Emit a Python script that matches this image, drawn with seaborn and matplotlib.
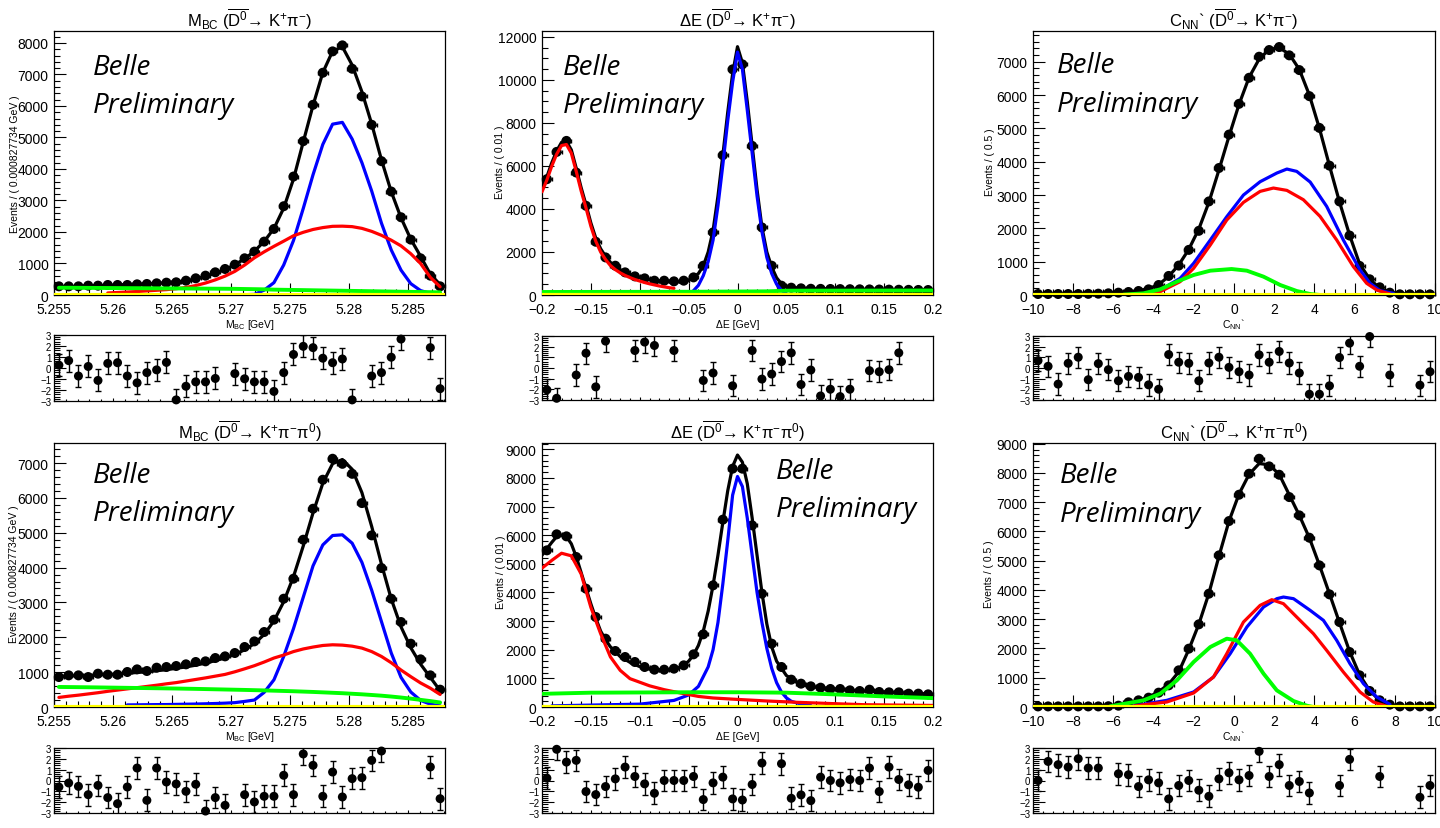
import numpy as np
import matplotlib
matplotlib.use("Agg")
import matplotlib.pyplot as plt
import seaborn as sns
from matplotlib.ticker import FixedLocator, AutoMinorLocator, FuncFormatter, NullFormatter

sns.set_theme(style="ticks")
plt.rcParams['font.family'] = ['Liberation Sans', 'DejaVu Sans']
plt.rcParams['mathtext.fontset'] = 'custom'
plt.rcParams['mathtext.rm'] = 'Liberation Sans'
plt.rcParams['mathtext.it'] = 'Liberation Sans:italic'
plt.rcParams['mathtext.bf'] = 'Liberation Sans:bold'
plt.rcParams['mathtext.sf'] = 'Liberation Sans'
plt.rcParams['axes.unicode_minus'] = True
plt.rcParams['text.color'] = 'black'

nan = np.nan
NBINS = 40
MBC_LO, MBC_W = 5.255, 0.000827734
DE_LO, DE_W = -0.2, 0.01
CNN_LO, CNN_W = -10.0, 0.5

# ---------------- tick labels ----------------
mbc_xticks = [5.255, 5.26, 5.265, 5.27, 5.275, 5.28, 5.285]
de_xticks = [-0.2, -0.15, -0.1, -0.05, 0.0, 0.05, 0.1, 0.15, 0.2]
cnn_xticks = [-10, -8, -6, -4, -2, 0, 2, 4, 6, 8, 10]
pull_yticks = [-3, -2, -1, 0, 1, 2, 3]

# ================= Panel 1 : M_BC (D0 -> K+ pi-) =================
mbc_kpi_data = [275, 275, 275, 297, 297, 318, 318, 318, 339, 350, 371, 392, 403, 455, 530, 614, 720, 826, 964, 1165,
                1377, 1695, 2097, 2818, 3760, 4883, 6038, 7055, 7733, 7924, 7182, 6303, 5403, 4248, 3284, 2468, 1758, 1165, 614, 275]
mbc_kpi_total = [265, 268, 272, 280, 290, 305, 315, 325, 340, 355, 370, 390, 410, 450, 510, 590, 690, 810, 960, 1150,
                 1390, 1700, 2110, 2760, 3680, 4860, 6020, 7060, 7740, 7880, 7300, 6450, 5430, 4290, 3280, 2450, 1770, 1230, 660, 330]
mbc_kpi_blue = [5, 10, 20, 155, 392, 953, 1730, 2748, 3818, 4780, 5423, 5480, 4950, 4200, 3300, 2280, 1430, 790, 360, 140, 50, 20]  # bins 18..39
mbc_kpi_red = [65, 80, 95, 110, 130, 150, 170, 200, 240, 300, 380, 480, 600, 750, 950,
               1180, 1370, 1545, 1710, 1880, 1990, 2080, 2140, 2180, 2185, 2170, 2115, 2020, 1895, 1740, 1560, 1310, 1000, 560, 260]  # bins 5..39
mbc_kpi_green = [230, 230, 228, 226, 224, 222, 220, 218, 216, 214, 212, 210, 208, 206, 204, 202, 200, 198, 195, 190,
                 185, 180, 170, 165, 160, 155, 150, 145, 140, 135, 130, 125, 120, 115, 110, 105, 100, 95, 90, 85]
mbc_kpi_pull = [0.26, 0.67, -0.73, 0.14, -1.13, 0.42, 0.48, -0.73, -1.35, -0.42, -0.17, 0.51, -2.9, -1.66, -1.26, -1.26, -0.95, nan, -0.51, -0.98,
                -1.26, -1.26, -2.13, -0.42, 1.23, 1.97, 1.85, 0.89, 0.48, 0.82, -2.9, nan, -0.73, -0.42, 0.98, 2.63, nan, nan, 1.85, -1.88]

# ================= Panel 2 : Delta E (D0 -> K+ pi-) =================
de_kpi_data = [5387, 6656, 7167, 5697, 4149, 2477, 1749, 1362, 1053, 867, 774, 666, 666, 635, 666, 820, 1362, 2910, 6502, 10495,
               10728, 6935, 3142, 1362, 433, 340, 310, 290, 285, 280, 275, 270, 265, 260, 255, 250, 245, 240, 235, 232]
de_kpi_total_x = [-0.2, -0.195, -0.19, -0.185, -0.18, -0.175, -0.17, -0.165, -0.16, -0.155, -0.15, -0.145, -0.14, -0.135, -0.13, -0.125, -0.12,
                  -0.11, -0.1, -0.09, -0.08, -0.07, -0.06,
                  -0.055, -0.05, -0.045, -0.04, -0.035, -0.03, -0.025, -0.02, -0.015, -0.01, -0.005, 0.0, 0.005, 0.01, 0.015, 0.02, 0.025, 0.03, 0.035, 0.04, 0.045, 0.05,
                  0.06, 0.08, 0.1, 0.15, 0.2]
de_kpi_total = [4950, 5500, 6150, 6700, 7100, 7150, 6750, 5900, 5000, 4200, 3350, 2650, 2150, 1800, 1520, 1330, 1180,
                960, 820, 720, 650, 615, 615,
                640, 700, 800, 1000, 1350, 2000, 3000, 4600, 6500, 8500, 10300, 11550, 10800, 9000, 6950, 4900, 3150, 2000, 1300, 800, 520, 400,
                320, 290, 270, 250, 240]
de_kpi_blue_x = [-0.05, -0.045, -0.04, -0.035, -0.03, -0.025, -0.02, -0.015, -0.01, -0.005, 0.0, 0.005, 0.01, 0.015, 0.02, 0.025, 0.03, 0.035, 0.04, 0.045, 0.05]
de_kpi_blue = [20, 200, 450, 900, 1550, 2550, 4150, 6050, 8100, 9900, 11300, 10500, 8600, 6600, 4600, 2950, 1750, 1000, 500, 220, 60]
de_kpi_red_x = [-0.2, -0.195, -0.19, -0.185, -0.18, -0.175, -0.17, -0.165, -0.16, -0.155, -0.15, -0.145, -0.14, -0.135, -0.13, -0.125, -0.12, -0.115,
                -0.11, -0.105, -0.1, -0.095, -0.09, -0.085, -0.08, -0.075, -0.07, -0.065]
de_kpi_red = [4800, 5350, 6000, 6550, 6950, 7000, 6600, 5750, 4850, 4050, 3200, 2500, 2000, 1650, 1370, 1180, 1030, 910,
              810, 720, 650, 580, 520, 470, 420, 380, 340, 310]
de_kpi_green_x = [-0.2, -0.05, 0.03, 0.05, 0.2]
de_kpi_green = [140, 150, 170, 200, 210]
de_kpi_pull = [-2.05, -2.84, nan, -0.66, 1.39, -1.77, 2.52, nan, nan, 1.64, 2.43, 2.11, nan, 1.64, nan, nan, -1.17, -0.47, nan, -1.67,
               nan, 1.64, -1.04, -0.57, 0.60, 1.42, -1.55, -0.19, -2.62, -1.99, -2.68, -1.99, nan, -0.25, -0.35, -0.16, 1.42, nan, nan, nan]

# ================= Panel 3 : C_NN' (D0 -> K+ pi-) =================
cnn_kpi_data = [30, 30, 30, 30, 30, 35, 40, 50, 70, 90, 120, 170, 300, 572, 883, 1354, 1926, 2808, 3811, 4814,
                5737, 6519, 7151, 7352, 7442, 7192, 6750, 5968, 5015, 3882, 2808, 1785, 873, 471, 231, 70, 20, 20, 20, 20]
cnn_kpi_total = [30, 30, 30, 30, 30, 35, 40, 50, 70, 95, 130, 190, 310, 560, 900, 1370, 1980, 2780, 3750, 4760,
                 5720, 6530, 7080, 7370, 7420, 7230, 6770, 6000, 5000, 3880, 2790, 1800, 930, 480, 200, 80, 40, 30, 30, 30]
cnn_kpi_blue_x = [-4.5, -3.67, -2.68, -2.01, -1.18, -0.36, 0.47, 1.30, 2.13, 2.63, 3.12, 3.79, 4.61, 5.44, 6.27, 6.77, 7.27, 7.93]
cnn_kpi_blue = [40, 150, 500, 950, 1650, 2350, 3000, 3400, 3660, 3780, 3710, 3390, 2660, 1650, 750, 350, 130, 50]
cnn_kpi_red_x = [-4.5, -3.67, -2.68, -2.01, -1.18, -0.36, 0.47, 1.30, 1.96, 2.63, 3.45, 4.28, 5.11, 5.94, 6.60, 7.10, 7.76]
cnn_kpi_red = [30, 100, 400, 800, 1500, 2250, 2780, 3110, 3210, 3140, 2860, 2360, 1650, 850, 350, 150, 30]
cnn_kpi_green_x = [-5.5, -4.5, -3.67, -2.84, -2.01, -1.18, -0.12, 0.64, 1.47, 2.30, 3.12, 3.79, 4.28]
cnn_kpi_green = [10, 50, 170, 400, 600, 730, 780, 730, 550, 300, 120, 30, 0]
cnn_kpi_pull = [0.69, 0.16, -1.51, 0.44, 1.01, -1.10, 0.41, -0.16, -1.20, -0.79, -0.88, -1.58, -1.99, 1.26, 0.54, 0.44, -1.20, 0.47, 1.01, 0.06,
                -0.35, -0.66, 1.23, 0.54, 1.55, 0.47, -0.47, -2.46, -2.46, -1.67, 0.98, 2.33, 0.16, 2.95, nan, -0.66, nan, nan, -1.61, -0.35]

# ================= Panel 4 : M_BC (D0 -> K+ pi- pi0) =================
mbc_kpp_data = [860, 908, 908, 860, 956, 927, 927, 1004, 1080, 1033, 1128, 1147, 1176, 1224, 1291, 1310, 1405, 1453, 1549, 1721,
                1883, 2151, 2505, 3107, 3681, 4799, 5688, 6520, 7122, 6979, 6692, 5851, 4924, 3987, 3107, 2438, 1816, 1367, 908, 497]
mbc_kpp_total = [880, 890, 900, 910, 920, 935, 950, 970, 990, 1010, 1040, 1070, 1110, 1150, 1200, 1260, 1330, 1410, 1510, 1640,
                 1820, 2080, 2470, 3020, 3740, 4620, 5570, 6420, 6980, 7100, 6820, 6150, 5180, 4100, 3100, 2300, 1700, 1230, 850, 470]
mbc_kpp_blue = [60, 62, 65, 68, 70, 75, 80, 85, 92, 100, 110, 125, 160, 200, 420, 780, 1450, 2250, 3150, 4050,
                4650, 4920, 4940, 4700, 4150, 3350, 2450, 1550, 850, 430, 190, 80, 35]  # bins 7..39
mbc_kpp_red = [275, 310, 340, 375, 410, 450, 485, 520, 555, 590, 625, 665, 700, 745, 790, 835, 885, 935, 1010, 1095,
               1185, 1290, 1405, 1490, 1590, 1665, 1720, 1765, 1785, 1775, 1745, 1690, 1590, 1450, 1270, 1060, 870, 690, 540, 360]
mbc_kpp_green = [575, 572, 569, 566, 562, 558, 554, 550, 546, 542, 538, 534, 530, 525, 520, 514, 508, 502, 496, 490,
                 483, 476, 468, 460, 452, 442, 432, 420, 408, 396, 380, 364, 345, 325, 300, 272, 240, 205, 170, 130]
mbc_kpp_pull = [-0.6, -0.23, -0.54, -1.31, -0.45, -1.58, -2.14, -0.6, 1.15, -1.83, 1.15, -0.14, -0.32, -1.0, -0.35, -2.82, -1.58, -2.29, nan, -1.31,
                -1.98, -1.46, -1.46, 0.48, -1.31, 2.45, 1.4, -1.46, 0.78, -1.52, 0.17, 0.26, 1.86, 2.72, nan, nan, nan, nan, 1.25, -1.68]

# ================= Panel 5 : Delta E (D0 -> K+ pi- pi0) =================
de_kpp_data = [5471, 6030, 5960, 5239, 4133, 3143, 2386, 1956, 1746, 1572, 1397, 1304, 1304, 1339, 1455, 1839, 2538, 4249, 6543, 8324,
               8324, 6344, 3958, 2212, 1397, 955, 815, 722, 675, 629, 629, 582, 559, 605, 524, 512, 512, 466, 466, 442]
de_kpp_total_x = [-0.2, -0.19, -0.185, -0.18, -0.175, -0.17, -0.165, -0.16, -0.155, -0.15, -0.145, -0.14, -0.135, -0.13,
                  -0.12, -0.11, -0.1, -0.09, -0.08, -0.07, -0.06,
                  -0.055, -0.05, -0.045, -0.04, -0.035, -0.03, -0.025, -0.02, -0.015, -0.01, -0.005, 0.0, 0.005, 0.01, 0.015, 0.02, 0.025, 0.03, 0.035, 0.04, 0.045, 0.05,
                  0.06, 0.07, 0.08, 0.1, 0.12, 0.15, 0.2]
de_kpp_total = [5300, 5750, 5950, 6000, 5950, 5700, 5250, 4700, 4150, 3600, 3100, 2650, 2350, 2100,
                1760, 1560, 1410, 1320, 1290, 1300, 1380,
                1460, 1600, 1820, 2150, 2650, 3350, 4250, 5300, 6450, 7550, 8400, 8800, 8550, 7800, 6600, 5300, 4000, 2900, 2100, 1600, 1350, 1100,
                870, 740, 690, 620, 575, 519, 448]
de_kpp_blue_x = [-0.19, -0.1, -0.065, -0.05, -0.04, -0.03, -0.025, -0.02, -0.015, -0.01, -0.005, 0.0, 0.005, 0.01, 0.015, 0.02, 0.025,
                 0.03, 0.035, 0.04, 0.045, 0.05, 0.055, 0.065, 0.075]
de_kpp_blue = [40, 100, 230, 420, 720, 1400, 2000, 2950, 4300, 5800, 7400, 8050, 7700, 6600, 5300, 4000, 2950,
               2050, 1350, 850, 520, 320, 200, 100, 50]
de_kpp_red_x = [-0.2, -0.19, -0.18, -0.17, -0.16, -0.15, -0.14, -0.13, -0.12, -0.11, -0.09, -0.075, -0.06, -0.04, -0.025, 0.0, 0.03, 0.06, 0.1, 0.13, 0.2]
de_kpp_red = [4850, 5120, 5370, 5280, 4650, 3480, 2560, 1750, 1280, 990, 740, 605, 500, 370, 315, 265, 210, 165, 115, 80, 55]
de_kpp_green_x = [-0.2, -0.15, -0.05, 0.0, 0.05, 0.1, 0.15, 0.2]
de_kpp_green = [460, 500, 515, 515, 500, 440, 370, 310]
de_kpp_pull = [0.22, 2.88, 1.70, 1.86, -1.02, -1.30, -0.56, 0.15, 1.24, 0.37, -0.31, -1.18, 0.0, 0.0, 0.0, 0.37, -1.76, -0.22, 0.31, -1.70,
               -1.80, -0.37, 1.61, nan, 1.55, -1.64, -1.33, -1.86, 0.31, 0.0, -0.22, 0.09, 0.0, 1.15, -1.02, 1.24, 0.09, -0.40, -0.62, 0.93]

# ================= Panel 6 : C_NN' (D0 -> K+ pi- pi0) =================
cnn_kpp_data = [20, 20, 20, 20, 20, 20, 20, 25, 45, 160, 228, 319, 490, 740, 1253, 1993, 2825, 3872, 5182, 6355,
                7255, 7973, 8485, 8223, 7938, 7175, 6549, 5786, 4840, 3850, 2904, 1879, 1082, 547, 228, 80, 20, 20, 20, 20]
cnn_kpp_total = [20, 20, 20, 20, 20, 25, 30, 40, 70, 130, 220, 340, 520, 780, 1200, 1960, 2830, 3880, 5150, 6350,
                 7280, 7950, 8320, 8280, 7950, 7250, 6550, 5780, 4850, 3870, 2880, 1900, 1100, 560, 220, 80, 30, 20, 20, 20]
cnn_kpp_blue_x = [-5.0, -4.33, -3.34, -2.01, -1.02, -0.19, 0.64, 1.47, 2.13, 2.46, 2.96, 3.79, 4.45, 5.11, 5.77, 6.44, 7.10, 7.76]
cnn_kpp_blue = [40, 114, 228, 513, 1025, 1822, 2733, 3417, 3702, 3758, 3702, 3303, 2961, 2278, 1481, 797, 342, 91]
cnn_kpp_red_x = [-5.0, -4.33, -3.34, -2.01, -1.02, -0.36, 0.47, 1.30, 1.88, 2.46, 3.12, 3.95, 4.61, 5.44, 6.27, 6.93, 7.60]
cnn_kpp_red = [30, 91, 171, 478, 1025, 1822, 2904, 3474, 3667, 3531, 3075, 2506, 1936, 1196, 513, 171, 23]
cnn_kpp_green_x = [-6.16, -4.5, -3.67, -2.84, -2.01, -1.18, -0.36, 0.14, 0.80, 1.47, 2.13, 2.96, 3.62, 3.95]
cnn_kpp_green = [23, 228, 456, 911, 1538, 2050, 2335, 2278, 1822, 1139, 569, 205, 46, 0]
cnn_kpp_pull = [0.0, 1.76, 1.46, 1.24, 2.01, 1.15, 1.15, nan, 0.62, 0.53, -0.56, 0.06, -0.22, -1.70, -0.46, 0.0, -0.90, -1.46, 0.15, 0.71,
                0.06, 0.46, 2.69, 0.37, 1.46, -0.46, -0.09, -1.15, nan, nan, -0.46, 1.95, nan, nan, 0.37, nan, nan, nan, -1.55, -0.46]

yellow_level = [0, 0]

# ---------------- helpers ----------------
W, H = 1440, 829
fig = plt.figure(figsize=(W / 100, H / 100), dpi=100)


def rect(l, t, r, b):
    return [l / W, 1 - b / H, (r - l) / W, (b - t) / H]


def fmt(v, pos=None):
    v = round(v, 6)
    if abs(v) < 1e-9:
        v = 0
    return ('%g' % v).replace('-', '\u2212')


def centers(lo, w):
    return lo + w * (np.arange(NBINS) + 0.5)


def curve(ax, x, y, color, z, lw=2.3):
    sns.lineplot(x=list(x), y=list(y), ax=ax, color=color, linewidth=lw, estimator=None,
                 sort=False, legend=False, zorder=z)


def fig_text(x, y, s, **kw):
    fig.text(x / W, 1 - y / H, s, **kw)


DB = r"($\overline{\mathrm{D}^{0}}$→ K$^{+}$π$^{-}$)"
DB0 = r"($\overline{\mathrm{D}^{0}}$→ K$^{+}$π$^{-}$π$^{0}$)"
MBC = r"M$_{\mathrm{BC}}$"
DEL = "ΔE"
CNN = r"C$_{\mathrm{NN}}$`"
BELLE_FONT = ['Open Sans', 'DejaVu Sans']

panels = [
    dict(main=(54, 32, 445, 296), pullpos=(54, 336, 445, 402), lo=MBC_LO, w=MBC_W, xticks=mbc_xticks, xminor=5,
         ymax=8380, yticks=list(range(0, 8001, 1000)), yminor=5,
         title=MBC + " " + DB, xlabel=MBC + " [GeV]", ylabel="Events / ( 0.000827734 GeV )",
         data=mbc_kpi_data, total=(None, mbc_kpi_total),
         blue=(('bins', 18), mbc_kpi_blue), red=(('bins', 5), mbc_kpi_red), green=(('bins', 0), mbc_kpi_green),
         pull=mbc_kpi_pull, belle=(93, 75, 113), ylab_x=15, title_y=27, xlab_y=328, ylab_y=164),
    dict(main=(542, 32, 933, 296), pullpos=(542, 337, 933, 401), lo=DE_LO, w=DE_W, xticks=de_xticks, xminor=5,
         ymax=12279, yticks=list(range(0, 12001, 2000)), yminor=4,
         title=DEL + " " + DB, xlabel=DEL + " [GeV]", ylabel="Events / ( 0.01 )",
         data=de_kpi_data, total=(de_kpi_total_x, de_kpi_total),
         blue=(de_kpi_blue_x, de_kpi_blue), red=(de_kpi_red_x, de_kpi_red), green=(de_kpi_green_x, de_kpi_green),
         pull=de_kpi_pull, belle=(563, 75, 113), ylab_x=500, title_y=27, xlab_y=328, ylab_y=162),
    dict(main=(1033, 32, 1435, 296), pullpos=(1033, 337, 1435, 401), lo=CNN_LO, w=CNN_W, xticks=cnn_xticks, xminor=4,
         ymax=7923, yticks=list(range(0, 7001, 1000)), yminor=5,
         title=CNN + " " + DB, xlabel=CNN, ylabel="Events / ( 0.5 )",
         data=cnn_kpi_data, total=(None, cnn_kpi_total),
         blue=(cnn_kpi_blue_x, cnn_kpi_blue), red=(cnn_kpi_red_x, cnn_kpi_red), green=(cnn_kpi_green_x, cnn_kpi_green),
         pull=cnn_kpi_pull, belle=(1057, 73, 112), ylab_x=990, title_y=27, xlab_y=328, ylab_y=162),
    dict(main=(54, 444, 445, 708), pullpos=(54, 749, 445, 814), lo=MBC_LO, w=MBC_W, xticks=mbc_xticks, xminor=5,
         ymax=7574, yticks=list(range(0, 7001, 1000)), yminor=5,
         title=MBC + " " + DB0, xlabel=MBC + " [GeV]", ylabel="Events / ( 0.000827734 GeV )",
         data=mbc_kpp_data, total=(None, mbc_kpp_total),
         blue=(('bins', 7), mbc_kpp_blue), red=(('bins', 0), mbc_kpp_red), green=(('bins', 0), mbc_kpp_green),
         pull=mbc_kpp_pull, belle=(93, 483, 521), ylab_x=14, title_y=439, xlab_y=740, ylab_y=574),
    dict(main=(542, 444, 933, 708), pullpos=(542, 749, 933, 814), lo=DE_LO, w=DE_W, xticks=de_xticks, xminor=5,
         ymax=9220, yticks=list(range(0, 9001, 1000)), yminor=5,
         title=DEL + " " + DB0, xlabel=DEL + " [GeV]", ylabel="Events / ( 0.01 )",
         data=de_kpp_data, total=(de_kpp_total_x, de_kpp_total),
         blue=(de_kpp_blue_x, de_kpp_blue), red=(de_kpp_red_x, de_kpp_red), green=(de_kpp_green_x, de_kpp_green),
         pull=de_kpp_pull, belle=(776, 479, 517), ylab_x=501, title_y=439, xlab_y=740, ylab_y=572),
    dict(main=(1033, 444, 1435, 708), pullpos=(1033, 749, 1435, 814), lo=CNN_LO, w=CNN_W, xticks=cnn_xticks, xminor=4,
         ymax=9023, yticks=list(range(0, 9001, 1000)), yminor=5,
         title=CNN + " " + DB0, xlabel=CNN, ylabel="Events / ( 0.5 )",
         data=cnn_kpp_data, total=(None, cnn_kpp_total),
         blue=(cnn_kpp_blue_x, cnn_kpp_blue), red=(cnn_kpp_red_x, cnn_kpp_red), green=(cnn_kpp_green_x, cnn_kpp_green),
         pull=cnn_kpp_pull, belle=(1060, 483, 522), ylab_x=989, title_y=439, xlab_y=740, ylab_y=574),
]


def resolve_x(spec, ys, xc):
    if spec is None:
        return xc
    if isinstance(spec, tuple) and spec[0] == 'bins':
        start = spec[1]
        return xc[start:start + len(ys)]
    return spec


for p in panels:
    xc = centers(p['lo'], p['w'])
    xlo, xhi = p['lo'], p['lo'] + NBINS * p['w']

    ax = fig.add_axes(rect(*p['main']))
    tx, ty = p['total']
    curve(ax, resolve_x(tx, ty, xc), ty, 'black', 3)
    ax.errorbar(xc, p['data'], xerr=p['w'] / 2, yerr=np.sqrt(p['data']), fmt='none',
                ecolor='black', elinewidth=1.0, capsize=1.5, zorder=4, clip_on=False)
    sns.scatterplot(x=xc, y=p['data'], ax=ax, color='black', s=52, edgecolor='none',
                    zorder=5, legend=False, clip_on=False)
    for key, col, z, lw in (('blue', '#0000ff', 6, 2.3), ('red', '#ff0000', 7, 2.3), ('green', '#00ff00', 8, 2.8)):
        cx, cy = p[key]
        curve(ax, resolve_x(cx, cy, xc), cy, col, z, lw)
    sns.lineplot(x=[xlo, xhi], y=yellow_level, ax=ax, color='#ffff00', linewidth=3.0,
                 estimator=None, legend=False, zorder=9)

    ax.set_xlim(xlo, xhi)
    ax.set_ylim(0, p['ymax'])
    ax.xaxis.set_major_locator(FixedLocator(p['xticks']))
    ax.yaxis.set_major_locator(FixedLocator(p['yticks']))
    ax.xaxis.set_minor_locator(AutoMinorLocator(p['xminor']))
    ax.yaxis.set_minor_locator(AutoMinorLocator(p['yminor']))
    ax.xaxis.set_major_formatter(FuncFormatter(fmt))
    ax.yaxis.set_major_formatter(FuncFormatter(fmt))
    ax.tick_params(axis='both', which='both', direction='in', top=False, right=False, colors='black',
                   labelsize=10, width=0.8)
    ax.tick_params(axis='y', which='major', length=8.6, pad=4)
    ax.tick_params(axis='y', which='minor', length=4.3)
    ax.tick_params(axis='x', which='major', length=8.6, pad=5)
    ax.tick_params(axis='x', which='minor', length=4.3)
    for s in ax.spines.values():
        s.set_linewidth(0.9)
        s.set_color('black')
    ax.set_xlabel('')
    ax.set_ylabel('')
    ax.set_facecolor('white')

    l, t, r, b = p['main']
    fig_text((l + r) / 2, p['title_y'], p['title'], ha='center', va='baseline', fontsize=12)
    fig_text((l + r) / 2, p['xlab_y'], p['xlabel'], ha='center', va='baseline', fontsize=7.5)
    fig_text(p['ylab_x'], p['ylab_y'], p['ylabel'], ha='center', va='center', rotation=90, fontsize=7.5)
    bx, by1, by2 = p['belle']
    fig_text(bx, by1, "Belle", ha='left', va='baseline', fontsize=20, family=BELLE_FONT, style='italic')
    fig_text(bx, by2, "Preliminary", ha='left', va='baseline', fontsize=20, family=BELLE_FONT, style='italic')

    pa = fig.add_axes(rect(*p['pullpos']))
    pull = np.array(p['pull'], dtype=float)
    pa.errorbar(xc, pull, yerr=1.0, fmt='none', ecolor='black', elinewidth=1.0, capsize=2.5, capthick=1.0, zorder=4)
    sns.scatterplot(x=xc, y=pull, ax=pa, color='black', s=42, edgecolor='none', zorder=5, legend=False, clip_on=False)
    pa.set_xlim(xlo, xhi)
    pa.set_ylim(-3, 3)
    pa.xaxis.set_major_locator(FixedLocator(p['xticks']))
    pa.xaxis.set_minor_locator(AutoMinorLocator(p['xminor']))
    pa.xaxis.set_major_formatter(NullFormatter())
    pa.yaxis.set_major_locator(FixedLocator(pull_yticks))
    pa.yaxis.set_minor_locator(AutoMinorLocator(5))
    pa.yaxis.set_major_formatter(FuncFormatter(fmt))
    pa.tick_params(axis='both', which='both', direction='in', top=False, right=False, colors='black', width=0.8)
    pa.tick_params(axis='y', which='major', length=8.6, labelsize=7, pad=2)
    pa.tick_params(axis='y', which='minor', length=4.3)
    pa.tick_params(axis='x', which='major', length=2.5)
    pa.tick_params(axis='x', which='minor', length=1.2)
    for s in pa.spines.values():
        s.set_linewidth(0.9)
        s.set_color('black')
    pa.set_xlabel('')
    pa.set_ylabel('')

fig.savefig("out.png", dpi=100, facecolor='white')
